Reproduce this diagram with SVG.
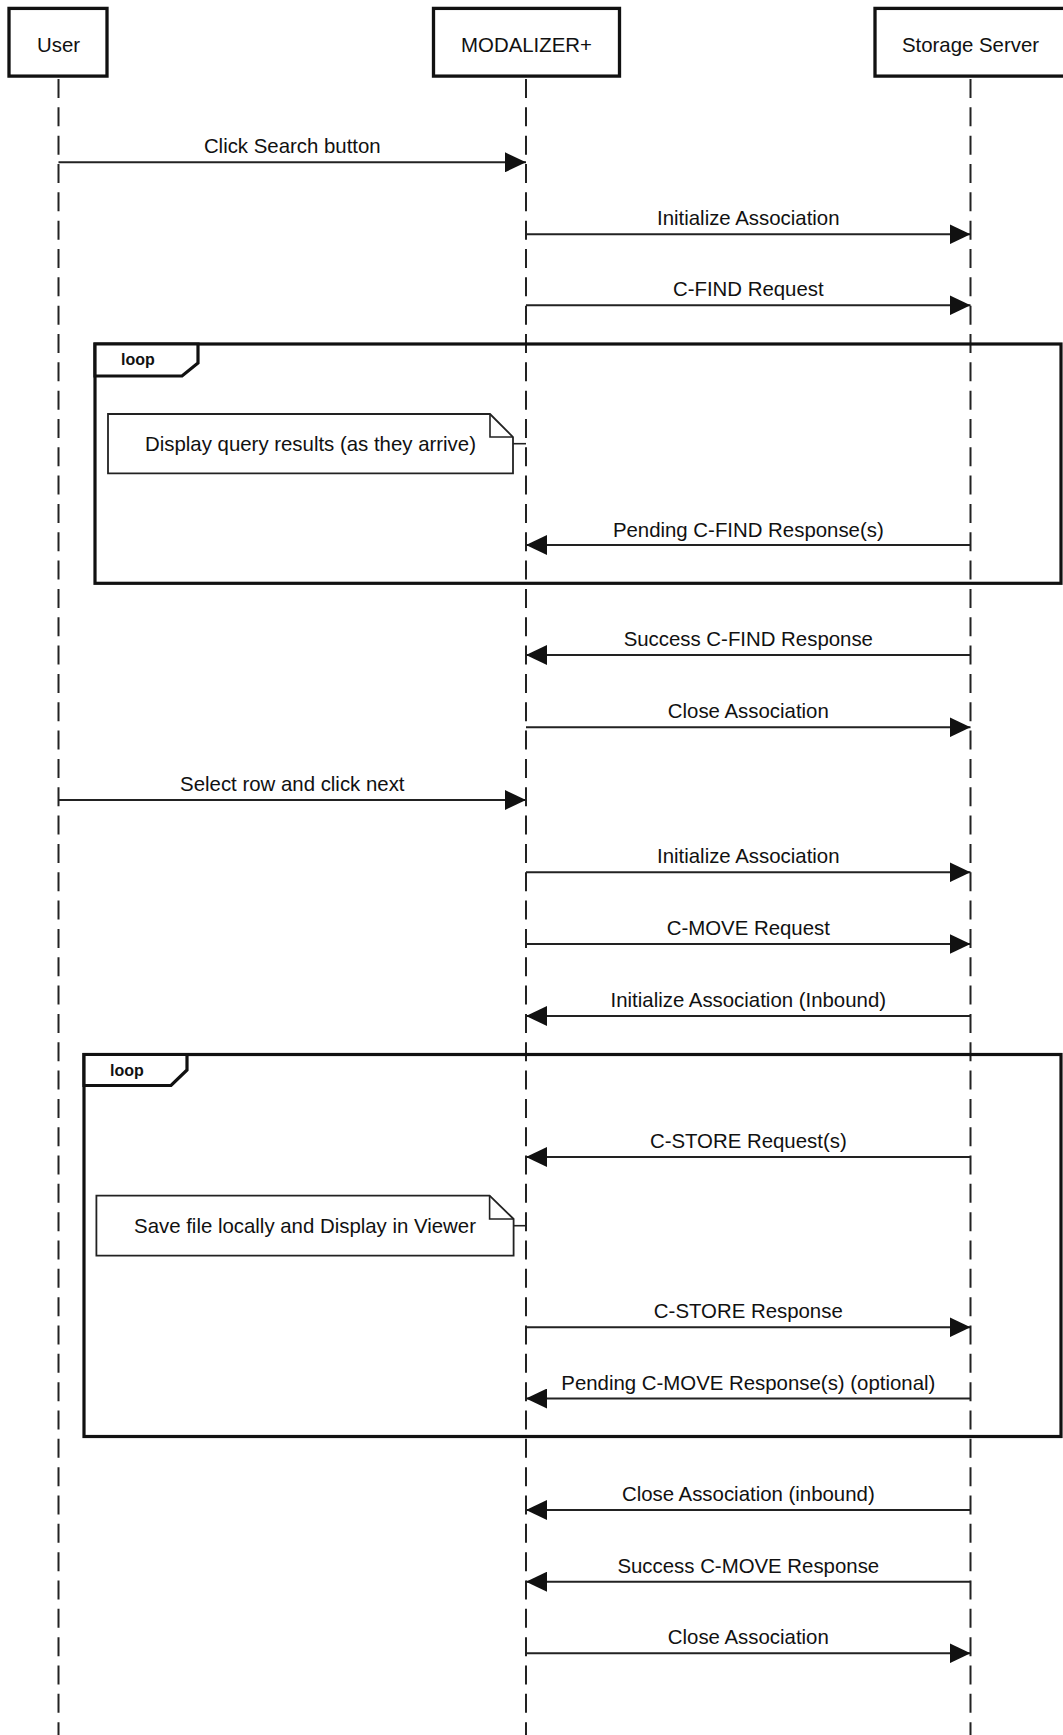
<svg xmlns="http://www.w3.org/2000/svg" width="1063" height="1735" viewBox="0 0 1063 1735">
<style>
  text { font-family: "Liberation Sans", Arial, Helvetica, sans-serif; fill: #111; }
  .lbl { font-size: 20.4px; text-anchor: middle; }
  .box { fill: #fff; stroke: #111; stroke-width: 3.3; }
  .life { stroke: #222; stroke-width: 2; stroke-dasharray: 19 9.33; fill: none; }
  .msg { stroke: #222; stroke-width: 2; fill: none; marker-end: url(#ah); }
  .frame { fill: none; stroke: #111; stroke-width: 3.2; }
  .tab { fill: #fff; stroke: #111; stroke-width: 3.2; stroke-linejoin: miter; }
  .loop { font-size: 16px; font-weight: bold; }
  .note { fill: #fff; stroke: #222; stroke-width: 1.8; }
  .nlink { stroke: #222; stroke-width: 1.6; fill: none; }
</style>
<defs>
  <marker id="ah" viewBox="0 0 21 20" refX="21" refY="10" markerWidth="21" markerHeight="20" markerUnits="userSpaceOnUse" orient="auto">
    <path d="M0,0 L21,10 L0,20 Z" fill="#111"/>
  </marker>
</defs>
<rect width="1063" height="1735" fill="#fff"/>

<g id="lifelines">
  <line class="life" x1="58.5" y1="79" x2="58.5" y2="1735"/>
  <line class="life" x1="526" y1="79" x2="526" y2="1735"/>
  <line class="life" x1="970.5" y1="79" x2="970.5" y2="1735"/>
</g>

<g id="participant-user">
  <rect class="box" x="9" y="8.4" width="98" height="67.7"/>
  <text class="lbl" x="58.5" y="51.5">User</text>
</g>
<g id="participant-modalizer">
  <rect class="box" x="433.5" y="8.4" width="186" height="67.7"/>
  <text class="lbl" x="526.5" y="51.5">MODALIZER+</text>
</g>
<g id="participant-storage">
  <rect class="box" x="875" y="8.4" width="192" height="67.7"/>
  <text class="lbl" x="970.5" y="51.5">Storage Server</text>
</g>

<g id="loop1">
  <rect class="frame" x="95" y="344" width="966" height="239.3"/>
  <path class="tab" d="M95,344 H198 V363 L182,376 H95 Z"/>
  <text class="loop" x="121" y="365">loop</text>
</g>
<g id="loop2">
  <rect class="frame" x="84" y="1054.5" width="977" height="382"/>
  <path class="tab" d="M84,1054.5 H187 V1070 L171,1085.5 H84 Z"/>
  <text class="loop" x="110" y="1075.5">loop</text>
</g>

<g id="note1">
  <path class="note" d="M108,414 H490 L513,437 V473.3 H108 Z"/>
  <path class="nlink" d="M490,414 V437 H513"/>
  <line class="nlink" x1="513" y1="443.7" x2="526" y2="443.7"/>
  <text class="lbl" x="310.5" y="451">Display query results (as they arrive)</text>
</g>
<g id="note2">
  <path class="note" d="M96.4,1195.7 H489.6 L513.6,1219 V1255.7 H96.4 Z"/>
  <path class="nlink" d="M489.6,1195.7 V1219 H513.6"/>
  <line class="nlink" x1="513.6" y1="1225.7" x2="526" y2="1225.7"/>
  <text class="lbl" x="305" y="1232.5">Save file locally and Display in Viewer</text>
</g>

<g id="connectors">
  <line class="msg" x1="58.5" y1="162.3" x2="526" y2="162.3"/>
  <text class="lbl" x="292.3" y="153.3">Click Search button</text>

  <line class="msg" x1="526" y1="234.3" x2="970.5" y2="234.3"/>
  <text class="lbl" x="748.3" y="225.3">Initialize Association</text>

  <line class="msg" x1="526" y1="305.3" x2="970.5" y2="305.3"/>
  <text class="lbl" x="748.3" y="296.3">C-FIND Request</text>

  <line class="msg" x1="970.5" y1="545" x2="526" y2="545"/>
  <text class="lbl" x="748.3" y="536.5">Pending C-FIND Response(s)</text>

  <line class="msg" x1="970.5" y1="655" x2="526" y2="655"/>
  <text class="lbl" x="748.3" y="646">Success C-FIND Response</text>

  <line class="msg" x1="526" y1="727.3" x2="970.5" y2="727.3"/>
  <text class="lbl" x="748.3" y="718.3">Close Association</text>

  <line class="msg" x1="58.5" y1="800" x2="526" y2="800"/>
  <text class="lbl" x="292.3" y="791">Select row and click next</text>

  <line class="msg" x1="526" y1="872.3" x2="970.5" y2="872.3"/>
  <text class="lbl" x="748.3" y="863.3">Initialize Association</text>

  <line class="msg" x1="526" y1="944" x2="970.5" y2="944"/>
  <text class="lbl" x="748.3" y="935">C-MOVE Request</text>

  <line class="msg" x1="970.5" y1="1016" x2="526" y2="1016"/>
  <text class="lbl" x="748.3" y="1007">Initialize Association (Inbound)</text>

  <line class="msg" x1="970.5" y1="1157" x2="526" y2="1157"/>
  <text class="lbl" x="748.3" y="1148">C-STORE Request(s)</text>

  <line class="msg" x1="526" y1="1327.3" x2="970.5" y2="1327.3"/>
  <text class="lbl" x="748.3" y="1318.3">C-STORE Response</text>

  <line class="msg" x1="970.5" y1="1398.5" x2="526" y2="1398.5"/>
  <text class="lbl" x="748.3" y="1389.5">Pending C-MOVE Response(s) (optional)</text>

  <line class="msg" x1="970.5" y1="1510" x2="526" y2="1510"/>
  <text class="lbl" x="748.3" y="1501">Close Association (inbound)</text>

  <line class="msg" x1="970.5" y1="1581.7" x2="526" y2="1581.7"/>
  <text class="lbl" x="748.3" y="1572.7">Success C-MOVE Response</text>

  <line class="msg" x1="526" y1="1653.3" x2="970.5" y2="1653.3"/>
  <text class="lbl" x="748.3" y="1644.3">Close Association</text>
</g>
</svg>
